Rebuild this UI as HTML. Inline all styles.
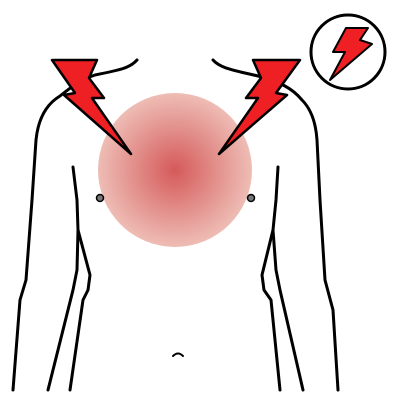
<!DOCTYPE html>
<html><head><meta charset="utf-8"><style>body{margin:0;background:#fff}svg{display:block}</style></head>
<body>
<svg width="400" height="400" viewBox="0 0 400 400">
<defs><radialGradient id="g"><stop offset="0" stop-color="#d55a5a"/><stop offset="1" stop-color="#eebdb5"/></radialGradient></defs>
<circle cx="175" cy="170" r="77" fill="url(#g)"/>
<g fill="none" stroke="#000" stroke-width="3" stroke-linecap="round" stroke-linejoin="round">
<path d="M137,60 C130,68 120,70 95,75 C80,80 70,88 60,96 C45,105 38,120 36,140 L32,200 L26,280 L20,300 L13,390"/>
<path d="M73,167 L77,200 L78,230 L90,275 L88,290 L83,300 L70,390"/>
<path d="M78,230 L77,270 L73,290 L48,390"/>
<path d="M213,60 C220,68 232,70 258,76 C280,82 292,88 302,100 C312,110 316,125 317,140 L320,200 L325,280 L333,310 L338,390"/>
<path d="M278,167 L276,200 L273,230 L262,275 L264,290 L271,300 L280,390"/>
<path d="M273,230 L276,270 L280,290 L303,390"/>
<path d="M173,356 Q178,351 183,356" stroke-width="2"/>
</g>
<circle cx="100" cy="198" r="3.5" fill="#777" stroke="#000" stroke-width="1.5"/>
<circle cx="251" cy="198" r="3.5" fill="#777" stroke="#000" stroke-width="1.5"/>
<polygon fill="#ee2024" stroke="#000" stroke-width="2.5" stroke-linejoin="round" points="52,60 97,60 89,78 104,98 92,98 131,154 64,95 75,93"/>
<polygon fill="#ee2024" stroke="#000" stroke-width="2.5" stroke-linejoin="round" points="300,60 253,60 261,78 246,98 258,98 219,154 287,95 276,93"/>
<g>
<circle cx="348" cy="52" r="37" fill="#fff" stroke="#000" stroke-width="3"/>
<polygon fill="#ee2024" stroke="#000" stroke-width="2" stroke-linejoin="round" points="346,28 368,28 360,40 372,44 330,80 345,52 333,52"/>
</g>
</svg>
</body></html>
